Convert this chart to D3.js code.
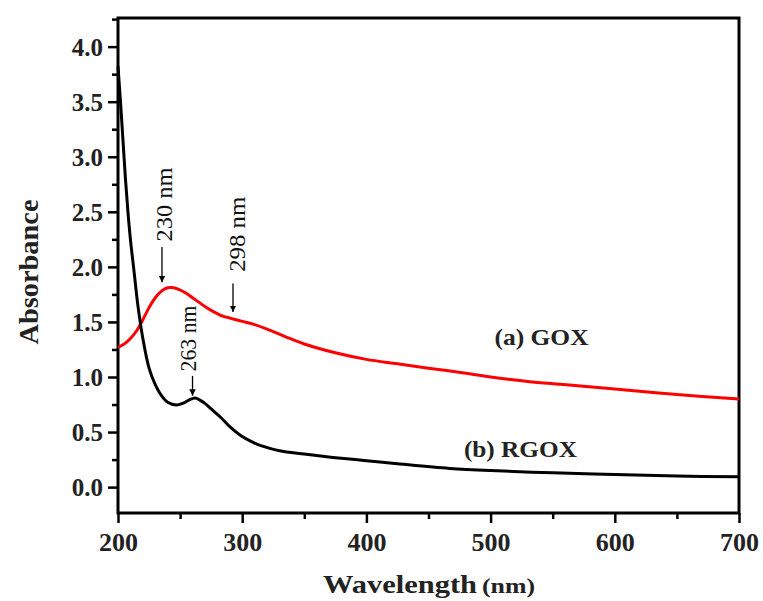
<!DOCTYPE html>
<html><head><meta charset="utf-8">
<script src="https://cdn.jsdelivr.net/npm/d3@7"></script>
<style>body{margin:0;background:#fff}svg text{font-family:"Liberation Serif","Times New Roman",serif}</style>
</head><body><svg id="c" width="763" height="601"></svg>
<script>
const goxWl  = [200,205,210,215,220,225,230,235,240,245,250,255,260,265,270,275,280,285,290,295,300,310,320,335,350,375,400,425,450,483,500,530,561,600,650,700];
const goxAbs = [1.27,1.30,1.35,1.42,1.52,1.63,1.72,1.78,1.81,1.81,1.79,1.76,1.72,1.68,1.64,1.605,1.575,1.55,1.535,1.52,1.505,1.475,1.435,1.365,1.30,1.22,1.16,1.12,1.08,1.03,1.00,0.96,0.93,0.89,0.84,0.80];
const rgoxWl  = [200,202,204,206,208,210,213,216,220,225,230,235,240,247,252,257,262,266,270,275,283,290,300,310,317,330,350,373,400,427,467,500,550,600,650,700];
const rgoxAbs = [3.82,3.50,3.15,2.80,2.50,2.25,1.95,1.65,1.35,1.08,0.93,0.83,0.77,0.745,0.76,0.79,0.81,0.79,0.76,0.71,0.63,0.55,0.46,0.40,0.37,0.33,0.30,0.27,0.24,0.21,0.17,0.15,0.13,0.115,0.10,0.095];
const xTicks = [200,300,400,500,600,700];
const yTicks = [0.0,0.5,1.0,1.5,2.0,2.5,3.0,3.5,4.0];
const annotations = [
  {label:"230 nm", tx:237, ty:2.23, ax:235.4, ay0:2.18, ay1:1.86},
  {label:"298 nm", tx:296, ty:1.955, ax:292.6, ay0:1.85, ay1:1.59},
  {label:"263 nm", tx:256, ty:1.05, ax:260,   ay0:1.01, ay1:0.83}
];
const seriesLabels = [
  {label:"(a) GOX",  x:541, y:1.29},
  {label:"(b) RGOX", x:524, y:0.27}
];

const svg = d3.select("#c");
const L=118, R=739, T=18, B=513;
const x = d3.scaleLinear().domain([200,700]).range([L,R]);
const y = d3.scaleLinear().domain([-0.235,4.26]).range([B,T]);

// frame
svg.append("rect").attr("x",L).attr("y",T).attr("width",R-L).attr("height",B-T)
  .attr("fill","none").attr("stroke","#000").attr("stroke-width",3);

// axes
const minorX = d3.range(250,700,100);
const minorY = d3.range(-0.25,4.26,0.5).filter(v=>v>-0.235);
const gx = svg.append("g").attr("transform",`translate(0,${B})`);
gx.call(d3.axisBottom(x).tickValues(xTicks).tickSize(10).tickPadding(10).tickFormat(d3.format("d")));
const gxm = svg.append("g").attr("transform",`translate(0,${B})`);
gxm.call(d3.axisBottom(x).tickValues(minorX).tickSize(6).tickFormat(""));
const gy = svg.append("g").attr("transform",`translate(${L},0)`);
gy.call(d3.axisLeft(y).tickValues(yTicks).tickSize(10).tickPadding(5).tickFormat(d3.format(".1f")));
const gym = svg.append("g").attr("transform",`translate(${L},0)`);
gym.call(d3.axisLeft(y).tickValues(minorY).tickSize(6).tickFormat(""));
[gx,gxm,gy,gym].forEach(g=>{
  g.select(".domain").remove();
  g.selectAll(".tick line").attr("stroke","#000").attr("stroke-width",2.5);
});
gx.selectAll(".tick text").attr("font-size",26).attr("font-weight","bold").attr("fill","#222");
gy.selectAll(".tick text").attr("font-size",25).attr("font-weight","bold").attr("fill","#222").attr("dy","0.35em");

// titles
svg.append("text").attr("transform",`translate(38,272) rotate(-90)`)
  .attr("text-anchor","middle").attr("font-size",27).attr("font-weight","bold").attr("fill","#222")
  .attr("textLength",145).attr("lengthAdjust","spacingAndGlyphs").text("Absorbance");
svg.append("text").attr("x",323).attr("y",593).attr("font-weight","bold").attr("fill","#222")
  .attr("font-size",25).attr("textLength",154).attr("lengthAdjust","spacingAndGlyphs").text("Wavelength");
svg.append("text").attr("x",482).attr("y",593).attr("font-weight","bold").attr("fill","#222")
  .attr("font-size",20).attr("textLength",53).attr("lengthAdjust","spacingAndGlyphs").text("(nm)");

// curves
const line = d3.line().x(d=>x(d[0])).y(d=>y(d[1])).curve(d3.curveCatmullRom.alpha(0.5));
svg.append("path").datum(goxWl.map((w,i)=>[w,goxAbs[i]]))
  .attr("d",line).attr("fill","none").attr("stroke","#ff0000").attr("stroke-width",3);
svg.append("path").datum(rgoxWl.map((w,i)=>[w,rgoxAbs[i]]))
  .attr("d",line).attr("fill","none").attr("stroke","#000").attr("stroke-width",3);

// annotations
svg.append("defs").append("marker").attr("id","ah").attr("viewBox","0 0 10 10")
  .attr("refX",10).attr("refY",5).attr("markerWidth",5).attr("markerHeight",6).attr("orient","auto")
  .append("path").attr("d","M0,0L10,5L0,10z").attr("fill","#000");
const annLen = {"230 nm":74,"298 nm":75,"263 nm":66};
annotations.forEach(a=>{
  svg.append("text").attr("transform",`translate(${x(a.tx)+8},${y(a.ty)}) rotate(-90)`)
    .attr("font-size",23).attr("fill","#111")
    .attr("textLength",annLen[a.label]).attr("lengthAdjust","spacingAndGlyphs").text(a.label);
  svg.append("line").attr("x1",x(a.ax)).attr("x2",x(a.ax)).attr("y1",y(a.ay0)).attr("y2",y(a.ay1))
    .attr("stroke","#000").attr("stroke-width",1.3).attr("marker-end","url(#ah)");
});
const lblLen = {"(a) GOX":94,"(b) RGOX":113};
seriesLabels.forEach(s=>{
  svg.append("text").attr("x",x(s.x)).attr("y",y(s.y)).attr("text-anchor","middle")
    .attr("font-size",23).attr("font-weight","bold").attr("fill","#222")
    .attr("textLength",lblLen[s.label]).attr("lengthAdjust","spacingAndGlyphs").text(s.label);
});
</script></body></html>
